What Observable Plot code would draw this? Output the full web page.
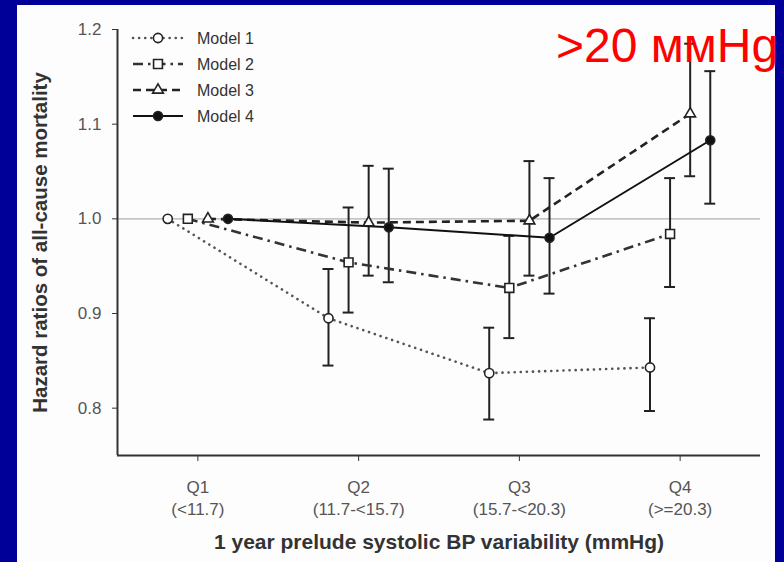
<!DOCTYPE html>
<html>
<head>
<meta charset="utf-8">
<script src="https://cdn.jsdelivr.net/npm/d3@7"></script>
<script src="https://cdn.jsdelivr.net/npm/@observablehq/plot@0.6"></script>
<style>
  html, body { margin: 0; padding: 0; }
  body { width: 784px; height: 562px; background: #000099; position: relative; overflow: hidden; font-family: "Liberation Sans", Arial, sans-serif; }
  #panel { position: absolute; left: 17px; top: 5px; width: 758px; height: 557px; background: #fdfdfd; }
  #chart { position: absolute; left: 0; top: 0; }
  #legend { position: absolute; left: 0; top: 0; }
  #note { position: absolute; left: 556px; top: 22px; font-size: 48px; line-height: 48px; color: #ff0000; white-space: nowrap; font-family: "Liberation Sans", Arial, sans-serif; }
</style>
</head>
<body>
<div id="panel"></div>
<div id="chart"></div>
<div id="legend"></div>
<div id="note">&gt;20 ммHg</div>
<script>
// ---- data ----
const quartiles = [1, 2, 3, 4];
const qNames = ["Q1", "Q2", "Q3", "Q4"];
const qRanges = ["(<11.7)", "(11.7-<15.7)", "(15.7-<20.3)", "(>=20.3)"];
const models = ["Model 1", "Model 2", "Model 3", "Model 4"];

const hrModel1 = [1.0, 0.895, 0.837, 0.843];
const loModel1 = [null, 0.845, 0.788, 0.797];
const hiModel1 = [null, 0.947, 0.885, 0.895];

const hrModel2 = [1.0, 0.954, 0.927, 0.984];
const loModel2 = [null, 0.901, 0.874, 0.928];
const hiModel2 = [null, 1.012, 0.982, 1.043];

const hrModel3 = [1.0, 0.996, 0.998, 1.111];
const loModel3 = [null, 0.940, 0.940, 1.045];
const hiModel3 = [null, 1.056, 1.061, 1.185];

const hrModel4 = [1.0, 0.991, 0.980, 1.083];
const loModel4 = [null, 0.933, 0.921, 1.016];
const hiModel4 = [null, 1.053, 1.043, 1.156];

const yTicks = [0.8, 0.9, 1.0, 1.1, 1.2];
const referenceHR = [1.0];

const xLabel = "1 year prelude systolic BP variability (mmHg)";
const yLabel = "Hazard ratios of all-cause mortality";

// ---- build table ----
const series = [
  [hrModel1, loModel1, hiModel1],
  [hrModel2, loModel2, hiModel2],
  [hrModel3, loModel3, hiModel3],
  [hrModel4, loModel4, hiModel4]
];
const dodge = 0.125;
const rows = [];
models.forEach((m, i) => {
  const [hr, lo, hi] = series[i];
  quartiles.forEach((q, j) => {
    rows.push({model: m, mi: i, q, x: q + (i - 1.5) * dodge, hr: hr[j], lo: lo[j], hi: hi[j]});
  });
});
const bars = rows.filter(d => d.lo != null);
const cap = 0.034;

const styles = [
  {dash: "0.1,6", width: 2.6, stroke: "#555", cap: "round", symbol: "circle", fill: "white", r: 4.6},
  {dash: "10,5,2.5,5", width: 2.6, stroke: "#333", cap: "butt", symbol: "square", fill: "white", r: 5},
  {dash: "8,5", width: 2.6, stroke: "#222", cap: "butt", symbol: "triangle", fill: "white", r: 4},
  {dash: null, width: 2, stroke: "#111", cap: "butt", symbol: "circle", fill: "#111", r: 4.5}
];

const font = "Liberation Sans, Arial, sans-serif";
const marks = [
  Plot.ruleY(referenceHR, {stroke: "#b0b0b0", strokeWidth: 1.2}),
  Plot.ruleX(bars, {x: "x", y1: "lo", y2: "hi", stroke: "#222", strokeWidth: 2}),
  Plot.ruleY(bars, {y: "lo", x1: d => d.x - cap, x2: d => d.x + cap, stroke: "#222", strokeWidth: 2}),
  Plot.ruleY(bars, {y: "hi", x1: d => d.x - cap, x2: d => d.x + cap, stroke: "#222", strokeWidth: 2})
];
models.forEach((m, i) => {
  const s = styles[i];
  const data = rows.filter(d => d.mi === i);
  marks.push(Plot.line(data, {x: "x", y: "hr", stroke: s.stroke, strokeWidth: s.width, strokeDasharray: s.dash, strokeLinecap: s.cap}));
});
models.forEach((m, i) => {
  const s = styles[i];
  const data = rows.filter(d => d.mi === i);
  marks.push(Plot.dot(data, {x: "x", y: "hr", symbol: () => s.symbol, r: s.r, fill: s.fill, stroke: "#222", strokeWidth: 1.6}));
});
marks.push(
  Plot.ruleX([0.5], {stroke: "#333", strokeWidth: 2}),
  Plot.ruleY([0.75], {stroke: "#333", strokeWidth: 2}),
  Plot.axisY({ticks: yTicks, tickFormat: d3.format(".1f"), tickSize: 5, tickPadding: 11, fontSize: 17, fill: "#555", stroke: "#333", label: null}),
  Plot.axisX({ticks: quartiles, tickFormat: d => qNames[quartiles.indexOf(d)] + "\n" + qRanges[quartiles.indexOf(d)], tickSize: 6, tickPadding: 16, fontSize: 17, lineHeight: 1.3, fill: "#555", stroke: "#333", label: null}),
  Plot.text([yLabel], {frameAnchor: "left", textAnchor: "middle", rotate: -90, dx: -77, dy: 0, fontSize: 20.5, fontWeight: "bold", fill: "#333"}),
  Plot.text([xLabel], {frameAnchor: "bottom", textAnchor: "middle", dy: 93, fontSize: 21, fontWeight: "bold", fill: "#333"})
);

const chart = Plot.plot({
  width: 784,
  height: 562,
  marginLeft: 117,
  marginRight: 24,
  marginTop: 29,
  marginBottom: 107,
  x: {type: "linear", domain: [0.5, 4.5]},
  y: {type: "linear", domain: [0.75, 1.2]},
  style: {fontFamily: font, background: "transparent", overflow: "visible"},
  marks
});
document.getElementById("chart").appendChild(chart);

// ---- legend ----
const lg = d3.select("#legend").append("svg").attr("width", 300).attr("height", 140).style("overflow", "visible");
models.forEach((m, i) => {
  const s = styles[i];
  const cy = 38 + i * 26;
  const g = lg.append("g");
  g.append("line").attr("x1", 133).attr("x2", 183).attr("y1", cy).attr("y2", cy)
    .attr("stroke", s.stroke).attr("stroke-width", s.width)
    .attr("stroke-dasharray", s.dash).attr("stroke-linecap", s.cap);
  const sym = {circle: d3.symbolCircle, square: d3.symbolSquare, triangle: d3.symbolTriangle}[s.symbol];
  g.append("path").attr("transform", `translate(158,${cy})`)
    .attr("d", d3.symbol(sym, Math.PI * s.r * s.r)())
    .attr("fill", s.fill).attr("stroke", "#222").attr("stroke-width", 1.6);
  g.append("text").attr("x", 197).attr("y", cy).attr("dy", "0.35em")
    .attr("font-family", font).attr("font-size", 16).attr("fill", "#333").text(m);
});
</script>
</body>
</html>
